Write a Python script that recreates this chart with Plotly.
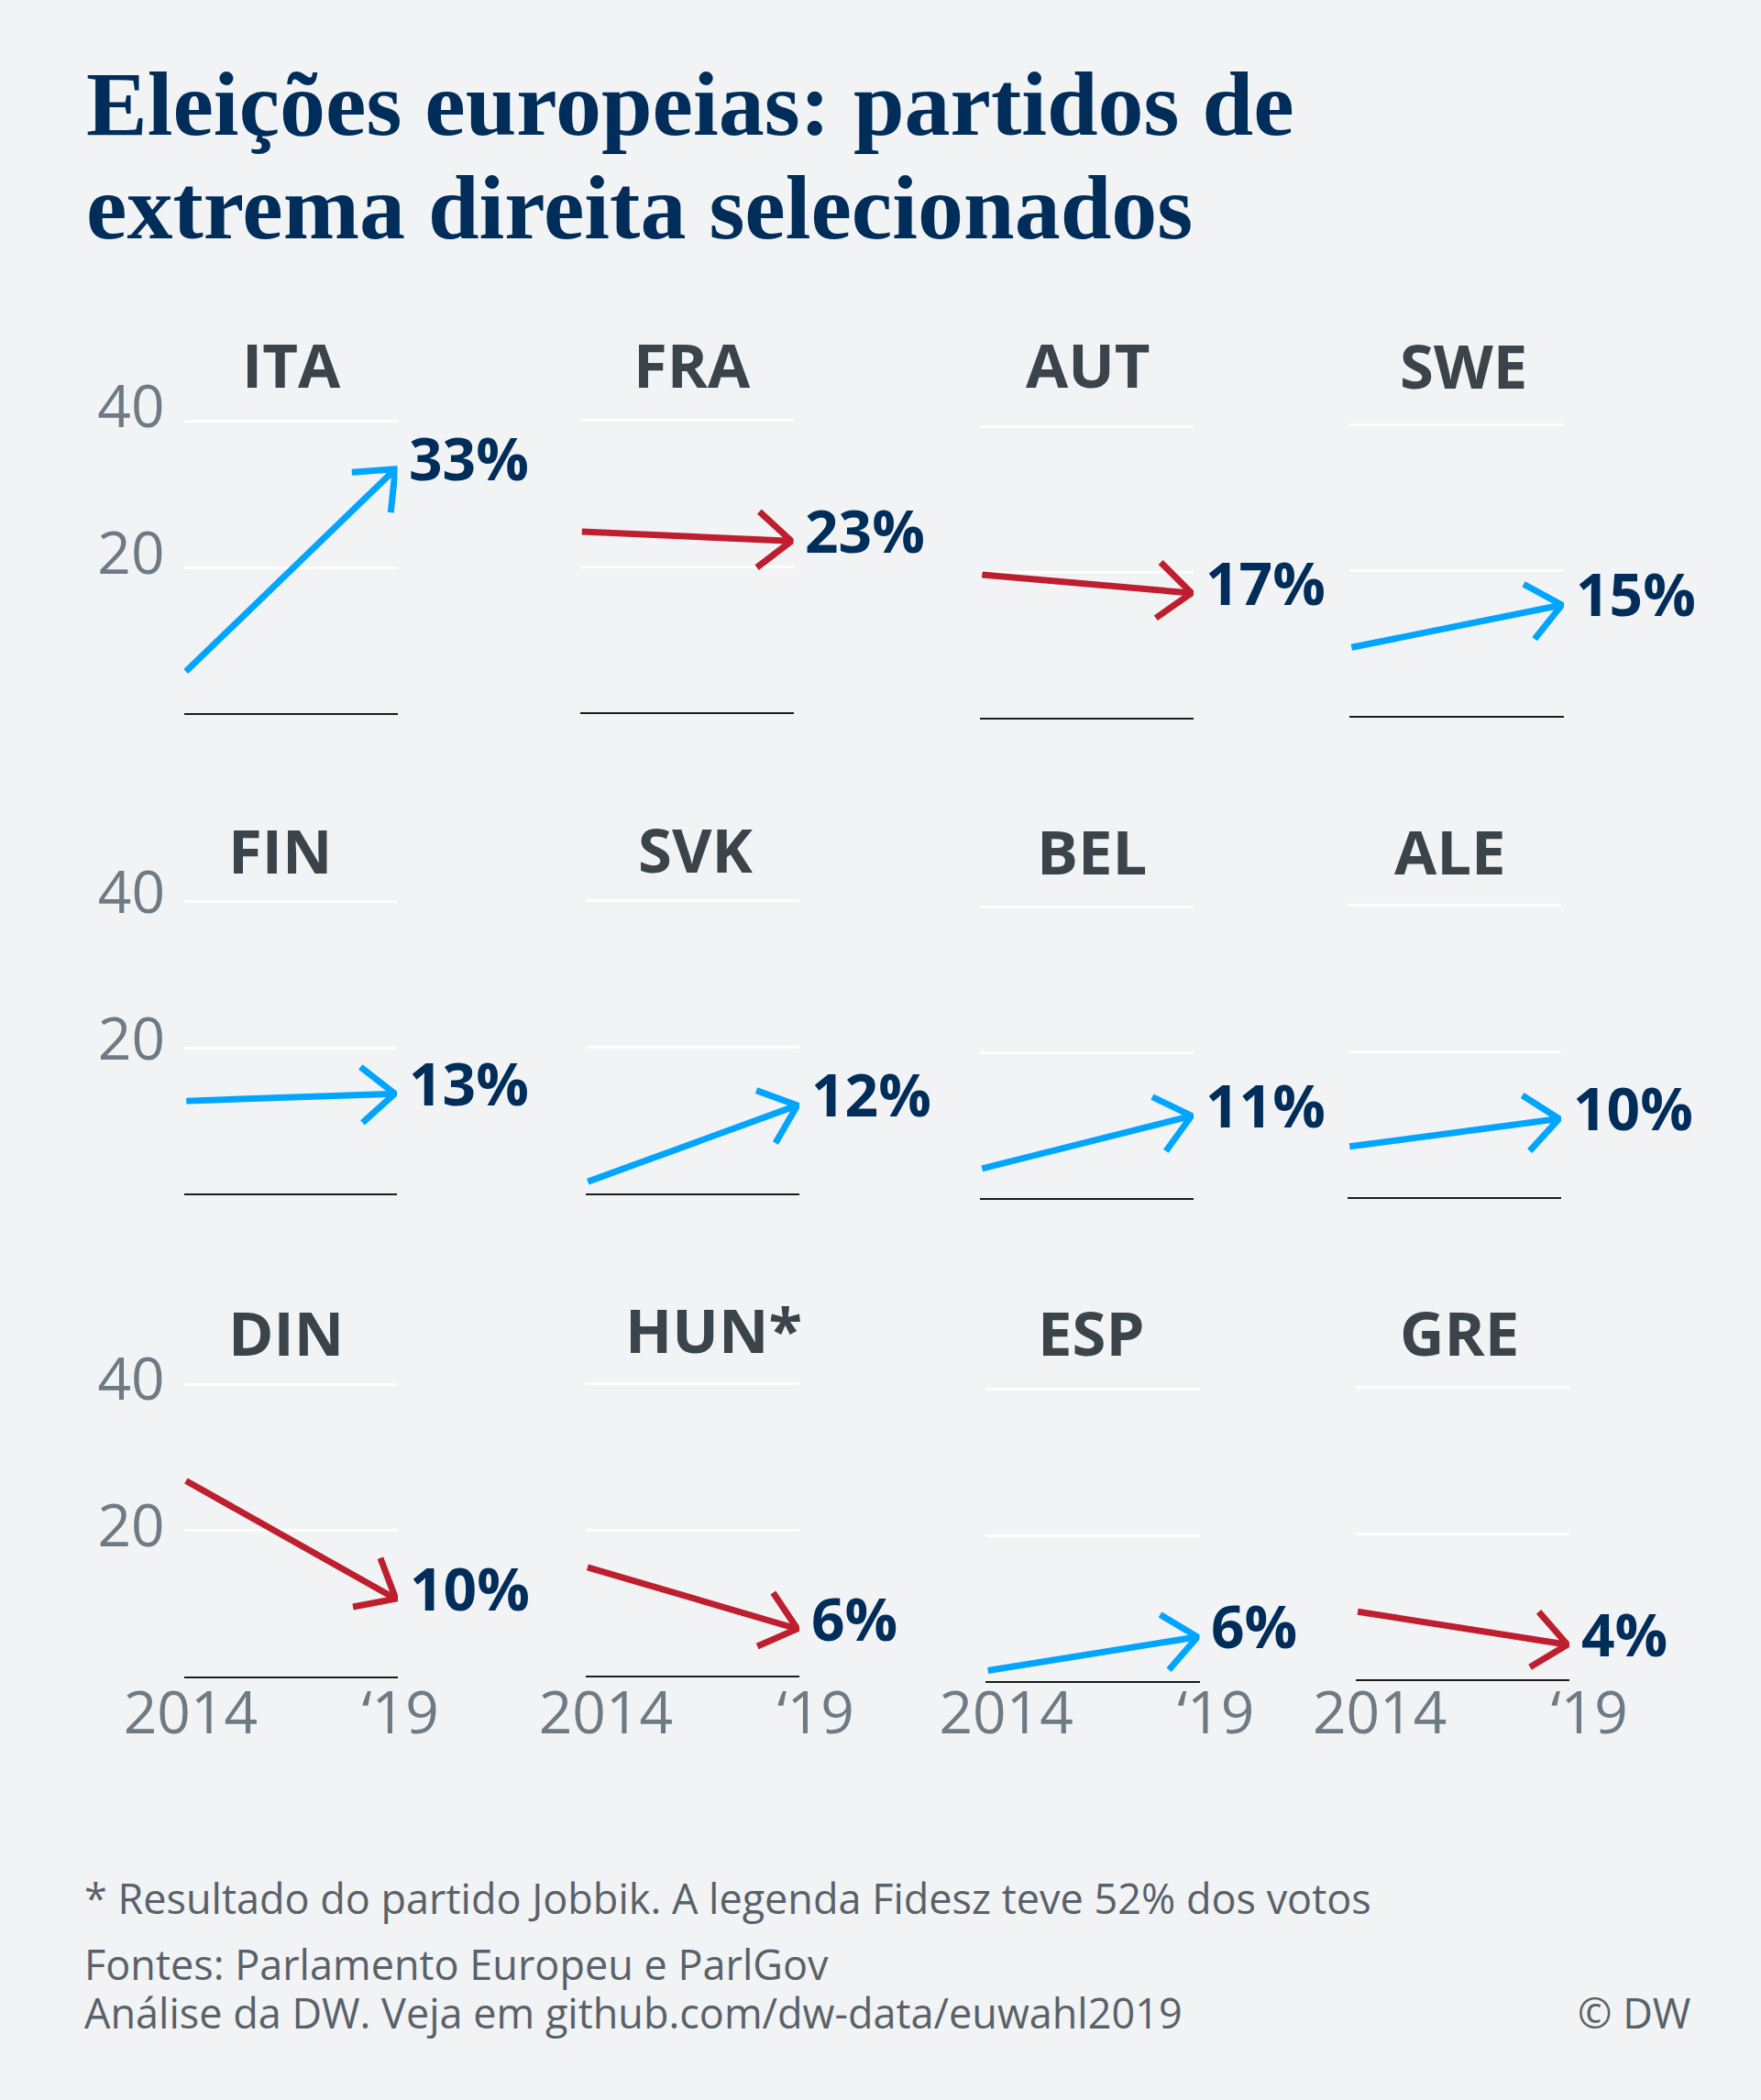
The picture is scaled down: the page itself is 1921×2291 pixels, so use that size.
import math
import plotly.graph_objects as go

# ---------------- data ----------------
countries = ["ITA", "FRA", "AUT", "SWE", "FIN", "SVK", "BEL", "ALE", "DIN", "HUN*", "ESP", "GRE"]
share_2014 = [5.8, 24.8, 19.7, 9.5, 12.8, 1.7, 4.2, 7.0, 26.8, 14.9, 1.6, 9.4]
share_2019 = [33.4, 23.5, 17.2, 15.3, 13.8, 12.1, 11.4, 10.8, 10.7, 6.5, 6.2, 4.9]
value_labels = ["33%", "23%", "17%", "15%", "13%", "12%", "11%", "10%", "10%", "6%", "6%", "4%"]
years = [2014, 2019]
year_ticktext = ["2014", "\u201819"]
y_tickvals = [0, 20, 40]
y_ticktext = ["", "20", "40"]

title_lines = ["Eleições europeias: partidos de", "extrema direita selecionados"]
footnote = "* Resultado do partido Jobbik. A legenda Fidesz teve 52% dos votos"
source_lines = ["Fontes: Parlamento Europeu e ParlGov",
                "Análise da DW. Veja em github.com/dw-data/euwahl2019"]
credit = "© DW"

# ---------------- layout geometry (pixels) ----------------
W, H = 1921, 2291
# (left, right, y of the 40 gridline, y of the baseline)
panel_px = [
    (200.5, 433.5, 459.0, 779.0), (632.5, 865.6, 458.7, 777.7),
    (1069.0, 1302.0, 465.0, 784.3), (1472.0, 1706.0, 463.0, 782.0),
    (201.0, 433.0, 984.0, 1303.3), (639.0, 872.0, 982.7, 1302.7),
    (1069.0, 1302.0, 989.0, 1308.3), (1470.0, 1703.0, 987.3, 1306.7),
    (200.6, 434.0, 1510.0, 1829.7), (638.6, 872.0, 1509.0, 1829.0),
    (1075.4, 1308.5, 1516.0, 1835.3), (1478.8, 1712.0, 1514.0, 1833.3),
]
panel_title_px = [
    (318, 397), (755, 397), (1187, 397), (1596, 398),
    (305, 927), (758, 926), (1191, 928), (1582, 928),
    (312, 1453), (778, 1450), (1190, 1453), (1592, 1453),
]
y_label_shift = {0: -15, 4: -10, 8: -5}          # per left-column panel
x_label_shift = {8: 5, 9: 20, 10: 20, 11: 24}     # per bottom-row panel
YEAR_LABEL_CY = 1869
X_PAD = 0.05
Y_RANGE = [-0.6, 42]
ARM_LEN = 47.5
ARM_ANGLE = math.radians(40)

BG = "#f1f3f5"
BLUE = "#00a5ff"
RED = "#be1e2d"
NAVY = "#002d5a"
TITLE_GRAY = "#3b434b"
TICK_GRAY = "#6e7a84"
FOOT_GRAY = "#596169"
SANS = "Open Sans"


def px_to_paper_y(py):
    return 1 - py / H


fig = go.Figure()
annotations = []

for i, name in enumerate(countries):
    left, right, y40, base = panel_px[i]
    ax_id = "" if i == 0 else str(i + 1)
    xa, ya = "x" + ax_id, "y" + ax_id
    xr = [years[0] - X_PAD, years[1] + X_PAD]
    sx = (right - left) / (xr[1] - xr[0])     # px per year
    sy = (base - y40) / 40.0                   # px per percentage point
    y_bottom = base + (0 - Y_RANGE[0]) * sy
    y_top = y40 - (Y_RANGE[1] - 40) * sy

    v0, v1 = share_2014[i], share_2019[i]
    color = BLUE if v1 >= v0 else RED

    # arrowhead arms computed in pixel space, converted back through the axis scales
    dxp = (years[1] - years[0]) * sx
    dyp = (v1 - v0) * sy
    back = math.atan2(dyp, dxp) + math.pi
    arms = []
    for s in (1, -1):
        a = back + s * ARM_ANGLE
        arms.append((years[1] + ARM_LEN * math.cos(a) / sx,
                     v1 + ARM_LEN * math.sin(a) / sy))

    fig.add_trace(go.Scatter(
        x=[years[0], years[1], None, arms[0][0], years[1], arms[1][0]],
        y=[v0, v1, None, arms[0][1], v1, arms[1][1]],
        mode="lines", line=dict(color=color, width=7),
        xaxis=xa, yaxis=ya, hoverinfo="skip", showlegend=False,
    ))

    row, col = divmod(i, 4)
    xaxis = dict(
        domain=[left / W, right / W], range=xr, anchor=ya, automargin=False,
        tickvals=years, ticktext=year_ticktext,
        showticklabels=(row == 2), showgrid=False, zeroline=False,
        showline=False, ticks="", fixedrange=True,
        tickfont=dict(family=SANS, size=64, color=TICK_GRAY),
    )
    if row == 2:
        xaxis["ticklabelstandoff"] = int(round(YEAR_LABEL_CY - y_bottom - 43))
        xaxis["ticklabelshift"] = x_label_shift[i]
    yaxis = dict(
        domain=[px_to_paper_y(y_bottom), px_to_paper_y(y_top)], range=Y_RANGE,
        anchor=xa, automargin=False, tickvals=y_tickvals, ticktext=y_ticktext,
        showticklabels=(col == 0), showgrid=True, gridcolor="#ffffff", gridwidth=2.5,
        zeroline=True, zerolinecolor="#1c1c1c", zerolinewidth=2,
        showline=False, ticks="", fixedrange=True,
        ticklabelstandoff=20, ticklabelshift=y_label_shift.get(i, 0),
        tickfont=dict(family=SANS, size=64, color=TICK_GRAY),
    )
    fig.layout["xaxis" + ax_id] = xaxis
    fig.layout["yaxis" + ax_id] = yaxis

    # value label at the arrow tip
    annotations.append(dict(
        x=years[1], y=v1, xref=xa, yref=ya, text="<b>%s</b>" % value_labels[i],
        showarrow=False, xanchor="left", yanchor="middle", xshift=13, yshift=12,
        font=dict(family=SANS, size=64, color=NAVY),
    ))
    # panel title
    tx, ty = panel_title_px[i]
    annotations.append(dict(
        x=tx / W, y=px_to_paper_y(ty), xref="paper", yref="paper",
        text="<b>%s</b>" % name, showarrow=False, xanchor="center", yanchor="middle",
        font=dict(family=SANS, size=67, color=TITLE_GRAY),
    ))

# main title (two lines)
for line, cy in zip(title_lines, [114, 226]):
    annotations.append(dict(
        x=92 / W, y=px_to_paper_y(cy), xref="paper", yref="paper", text="<b>%s</b>" % line,
        showarrow=False, xanchor="left", yanchor="middle",
        font=dict(family="Liberation Serif", size=100, color=NAVY),
    ))

# footer
for text, cy in zip([footnote] + source_lines, [2070, 2142, 2195]):
    annotations.append(dict(
        x=90 / W, y=px_to_paper_y(cy), xref="paper", yref="paper", text=text,
        showarrow=False, xanchor="left", yanchor="middle",
        font=dict(family=SANS, size=45, color=FOOT_GRAY),
    ))
annotations.append(dict(
    x=1846 / W, y=px_to_paper_y(2195), xref="paper", yref="paper", text=credit,
    showarrow=False, xanchor="right", yanchor="middle",
    font=dict(family=SANS, size=45, color=FOOT_GRAY),
))

fig.update_layout(
    width=W, height=H, margin=dict(l=0, r=0, t=0, b=0, pad=0, autoexpand=False),
    paper_bgcolor=BG, plot_bgcolor=BG,
    annotations=annotations, showlegend=False,
)

fig.write_html("out.html", config={"displayModeBar": False})
